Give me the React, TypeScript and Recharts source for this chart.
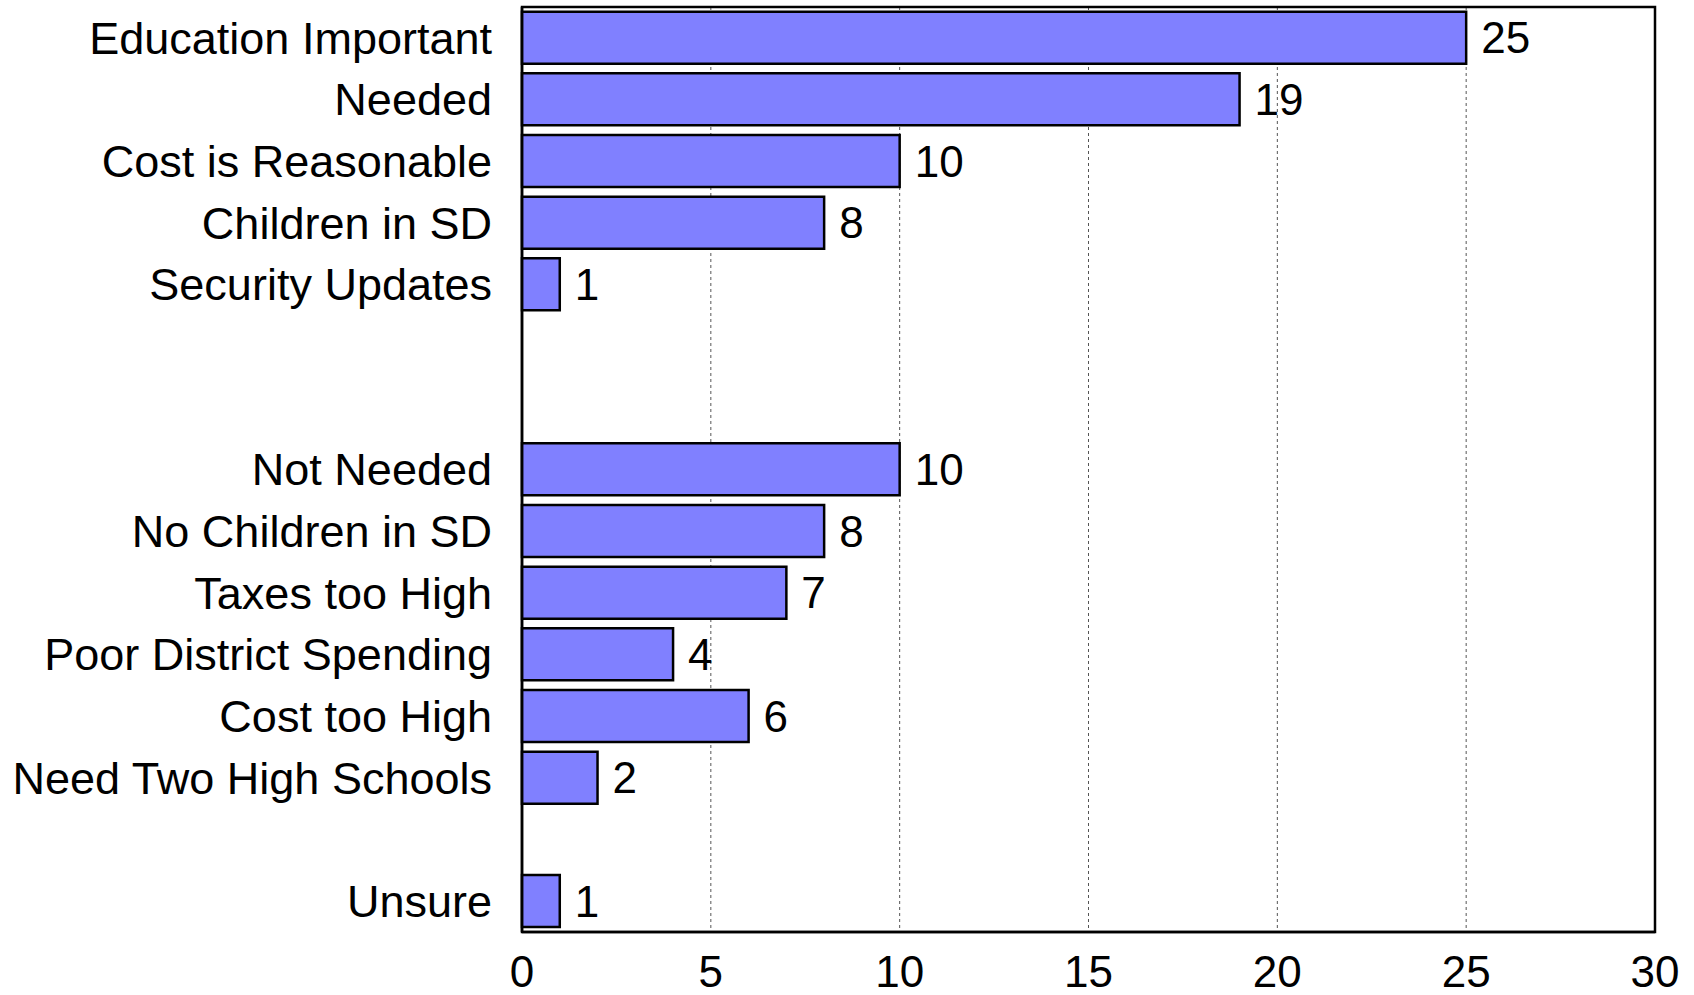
import React from 'react';
import { BarChart, Bar, XAxis, YAxis, CartesianGrid, LabelList, ReferenceArea } from 'recharts';

const categories = [
  'Education Important',
  'Needed',
  'Cost is Reasonable',
  'Children in SD',
  'Security Updates',
  '',
  ' ',
  'Not Needed',
  'No Children in SD',
  'Taxes too High',
  'Poor District Spending',
  'Cost too High',
  'Need Two High Schools',
  '  ',
  'Unsure',
];

const counts: (number | null)[] = [25, 19, 10, 8, 1, null, null, 10, 8, 7, 4, 6, 2, null, 1];

const xTicks = [0, 5, 10, 15, 20, 25, 30];

const FONT = '"Liberation Sans", Arial, sans-serif';

export default function App() {
  const chartData = categories.map((name, i) => ({ name, value: counts[i] }));

  return (
    <div style={{ position: 'absolute', left: 0, top: 0, background: '#fff', fontFamily: FONT }}>
      <BarChart
        width={1694}
        height={995}
        data={chartData}
        layout="vertical"
        margin={{ top: 7, right: 39, bottom: 0, left: 0 }}
        barCategoryGap="7.5%"
      >
        <CartesianGrid horizontal={false} stroke="#555" strokeDasharray="3 3" />
        <XAxis
          type="number"
          domain={[0, 30]}
          ticks={xTicks}
          interval={0}
          height={63}
          tickLine={false}
          tickSize={0}
          tickMargin={24}
          axisLine={{ stroke: '#000', strokeWidth: 2.5 }}
          tick={{ fill: '#000', fontSize: 44, fontFamily: FONT }}
        />
        <YAxis
          type="category"
          dataKey="name"
          width={522}
          interval={0}
          tickLine={false}
          tickSize={0}
          tickMargin={30}
          axisLine={{ stroke: '#000', strokeWidth: 2.5 }}
          tick={{ fill: '#000', fontSize: 45, fontFamily: FONT }}
        />
        <ReferenceArea x1={0} x2={30} fill="none" stroke="#000" strokeWidth={2.5} ifOverflow="visible" />
        <Bar dataKey="value" fill="#8080ff" stroke="#000" strokeWidth={2.5} isAnimationActive={false}>
          <LabelList
            dataKey="value"
            position="right"
            offset={15}
            fill="#000"
            fontSize={44}
            fontFamily={FONT}
            formatter={(v: any) => (v == null ? '' : v)}
          />
        </Bar>
      </BarChart>
    </div>
  );
}
